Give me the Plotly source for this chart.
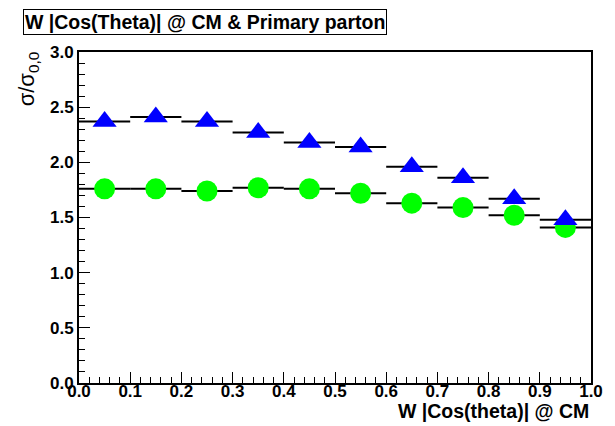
import plotly.graph_objects as go

bin_centers = [0.05, 0.15, 0.25, 0.35, 0.45, 0.55, 0.65, 0.75, 0.85, 0.95]
bin_half_width = [0.05] * 10
blue_values = [2.37, 2.41, 2.37, 2.27, 2.18, 2.14, 1.96, 1.86, 1.67, 1.48]
green_values = [1.76, 1.76, 1.74, 1.77, 1.76, 1.72, 1.63, 1.59, 1.52, 1.41]

title_text = "W |Cos(Theta)| @ CM & Primary parton"
x_title = "W |Cos(theta)| @ CM"
y_title = "σ/σ<sub>0,0</sub>"

FONT = "Liberation Sans, Arial, Helvetica, sans-serif"

fig = go.Figure()

fig.add_trace(go.Scatter(
    x=bin_centers, y=green_values, mode="markers",
    marker=dict(symbol="circle", size=21, color="#00ff00", line=dict(width=0)),
    error_x=dict(type="data", array=bin_half_width, color="black", thickness=2, width=0),
    showlegend=False,
))
fig.add_trace(go.Scatter(
    x=bin_centers, y=blue_values, mode="markers",
    marker=dict(symbol="triangle-up", size=21, color="#0000ff", line=dict(width=0)),
    error_x=dict(type="data", array=bin_half_width, color="black", thickness=2, width=0),
    showlegend=False,
))

axis_common = dict(
    showgrid=False, zeroline=False, showline=True, linecolor="black", linewidth=2,
    mirror=True, ticks="inside", tickcolor="black", tickwidth=1,
    tickfont=dict(family=FONT, size=17, color="black", weight="bold"),
    tickformat=".1f",
)

fig.update_xaxes(
    range=[0, 1], dtick=0.1, tick0=0, ticklen=11, ticklabelstandoff=-8,
    minor=dict(dtick=0.02, ticklen=6, ticks="inside", tickcolor="black", tickwidth=1),
    **axis_common,
)
fig.update_yaxes(
    range=[0, 3], dtick=0.5, tick0=0, ticklen=11,
    minor=dict(dtick=0.1, ticklen=6, ticks="inside", tickcolor="black", tickwidth=1),
    **axis_common,
)

fig.update_layout(
    width=615, height=426,
    margin=dict(l=79, r=16, t=52, b=43),
    paper_bgcolor="white", plot_bgcolor="white",
    font=dict(family=FONT, color="black"),
    annotations=[
        dict(text="<b>" + title_text + "</b>", xref="paper", yref="paper",
             x=-0.11, y=1.092, xanchor="left", yanchor="middle", showarrow=False,
             font=dict(family=FONT, size=19.5, color="black"),
             bordercolor="black", borderwidth=1, borderpad=1, bgcolor="white"),
        dict(text="<b>" + x_title + "</b>", xref="paper", yref="paper",
             x=1.0, y=-0.085, xanchor="right", yanchor="middle", showarrow=False,
             font=dict(family=FONT, size=19.5, color="black")),
        dict(text=y_title, xref="paper", yref="paper",
             x=-0.100, y=1.009, xanchor="center", yanchor="top", showarrow=False,
             textangle=-90, font=dict(family=FONT, size=22, color="black")),
    ],
)

fig.write_html("out.html")
